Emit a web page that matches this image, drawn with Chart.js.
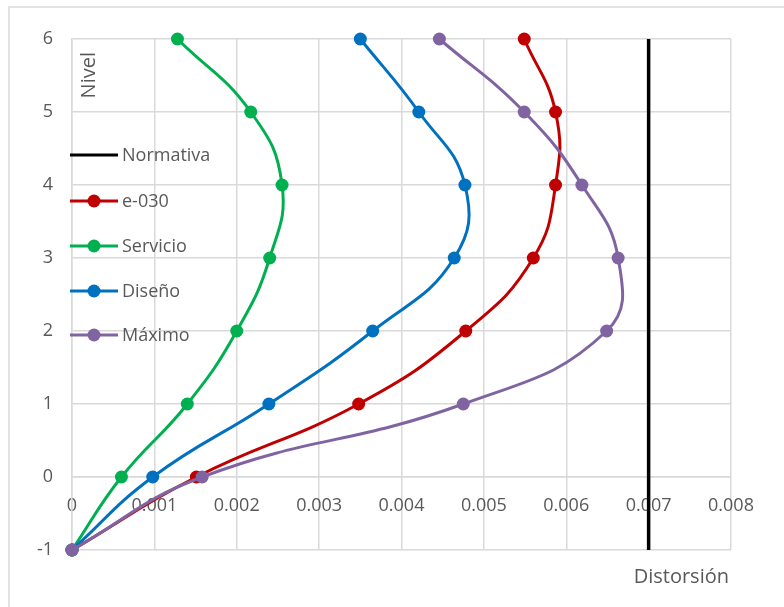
<!DOCTYPE html>
<html>
<head>
<meta charset="utf-8">
<script src="https://cdn.jsdelivr.net/npm/chart.js@4.4.0/dist/chart.umd.min.js"></script>
<style>
  html, body { margin: 0; background: #fff; }
  #wrap { width: 784px; height: 607px; }
</style>
</head>
<body>
<div id="wrap"><canvas id="chart"></canvas></div>
<script>
// Niveles (eje Y) y distorsiones (eje X)
const niveles = [-1, 0, 1, 2, 3, 4, 5, 6]
const e030 = [0, 0.00151, 0.00348, 0.00478, 0.0056, 0.00587, 0.00587, 0.00549]
const servicio = [0, 0.0006, 0.0014, 0.002, 0.0024, 0.00255, 0.00217, 0.00128]
const diseno = [0, 0.00098, 0.00239, 0.00365, 0.00464, 0.00477, 0.00421, 0.0035]
const maximo = [0, 0.00158, 0.00475, 0.00649, 0.00663, 0.00619, 0.00549, 0.00446]
const normativa = [0.007, 0.007]
const normativaNiveles = [-1, 6]

const xTicks = [0, 0.001, 0.002, 0.003, 0.004, 0.005, 0.006, 0.007, 0.008]
const xTickLabels = ['0', '0.001', '0.002', '0.003', '0.004', '0.005', '0.006', '0.007', '0.008']
const yTicks = [-1, 0, 1, 2, 3, 4, 5, 6]

const gris = '#595959'
const rejilla = '#d9d9d9'
const fuente = "'Open Sans', sans-serif"

const toPoints = (xs, ys) => xs.map((x, i) => ({ x: x, y: ys[i] }))

const serie = (label, xs, color, order) => ({
  label: label,
  data: toPoints(xs, niveles),
  borderColor: color,
  backgroundColor: color,
  borderWidth: 3,
  pointRadius: 6.5,
  pointHoverRadius: 6.5,
  pointBorderWidth: 0,
  tension: 0.45,
  showLine: true,
  clip: false,
  order: order
})

const datasets = [
  {
    label: 'Normativa',
    data: toPoints(normativa, normativaNiveles),
    borderColor: '#000000',
    backgroundColor: '#000000',
    borderWidth: 3.5,
    pointRadius: 0,
    showLine: true,
    order: 5
  },
  serie('e-030', e030, '#c00000', 4),
  serie('Servicio', servicio, '#00b050', 3),
  serie('Diseño', diseno, '#0070c0', 2),
  serie('Máximo', maximo, '#8064a2', 1)
]

// Leyenda dentro del area y titulos de ejes
const extras = {
  id: 'extras',
  beforeDraw(chart) {
    const ctx = chart.ctx
    ctx.save()
    ctx.strokeStyle = rejilla
    ctx.lineWidth = 1.5
    ctx.strokeRect(9, 7, 900, 800)
    ctx.restore()
  },
  afterDraw(chart) {
    const ctx = chart.ctx
    ctx.save()
    ctx.font = '18px ' + fuente
    ctx.textBaseline = 'middle'
    const filas = [155, 201, 246, 291, 335]
    datasets.forEach((ds, i) => {
      const y = filas[i]
      ctx.strokeStyle = ds.borderColor
      ctx.lineWidth = 3
      ctx.beginPath()
      ctx.moveTo(70, y)
      ctx.lineTo(118, y)
      ctx.stroke()
      if (ds.pointRadius) {
        ctx.fillStyle = ds.backgroundColor
        ctx.beginPath()
        ctx.arc(94, y, 6.5, 0, Math.PI * 2)
        ctx.fill()
      }
      ctx.fillStyle = gris
      ctx.textAlign = 'left'
      ctx.fillText(ds.label, 122, y + 1)
    })

    ctx.font = '20px ' + fuente
    ctx.fillStyle = gris
    ctx.textAlign = 'right'
    ctx.fillText('Distorsión', 729, 577)

    ctx.translate(89, 52)
    ctx.rotate(-Math.PI / 2)
    ctx.textAlign = 'right'
    ctx.fillText('Nivel', 0, 0)
    ctx.restore()
  }
}

new Chart(document.getElementById('chart'), {
  type: 'scatter',
  data: { datasets: datasets },
  plugins: [extras],
  options: {
    responsive: true,
    maintainAspectRatio: false,
    animation: false,
    layout: { padding: { top: 39, right: 53, bottom: 57, left: 0 } },
    plugins: {
      legend: { display: false },
      tooltip: { enabled: false }
    },
    scales: {
      x: {
        type: 'linear',
        position: { y: 0 },
        min: 0,
        max: 0.008,
        afterBuildTicks: (s) => { s.ticks = xTicks.map(v => ({ value: v })) },
        ticks: {
          padding: 18,
          color: gris,
          font: { family: fuente, size: 18 },
          callback: (v) => xTickLabels[xTicks.indexOf(v)]
        },
        grid: { color: rejilla, lineWidth: 1.5, drawTicks: false },
        border: { color: rejilla, width: 1.5 }
      },
      y: {
        type: 'linear',
        min: -1,
        max: 6,
        afterBuildTicks: (s) => { s.ticks = yTicks.map(v => ({ value: v })) },
        afterFit: (s) => { s.width = 72 },
        ticks: {
          padding: 19,
          color: gris,
          font: { family: fuente, size: 18 }
        },
        grid: { color: rejilla, lineWidth: 1.5, drawTicks: false },
        border: { color: rejilla, width: 1.5 }
      }
    }
  }
})
</script>
</body>
</html>
